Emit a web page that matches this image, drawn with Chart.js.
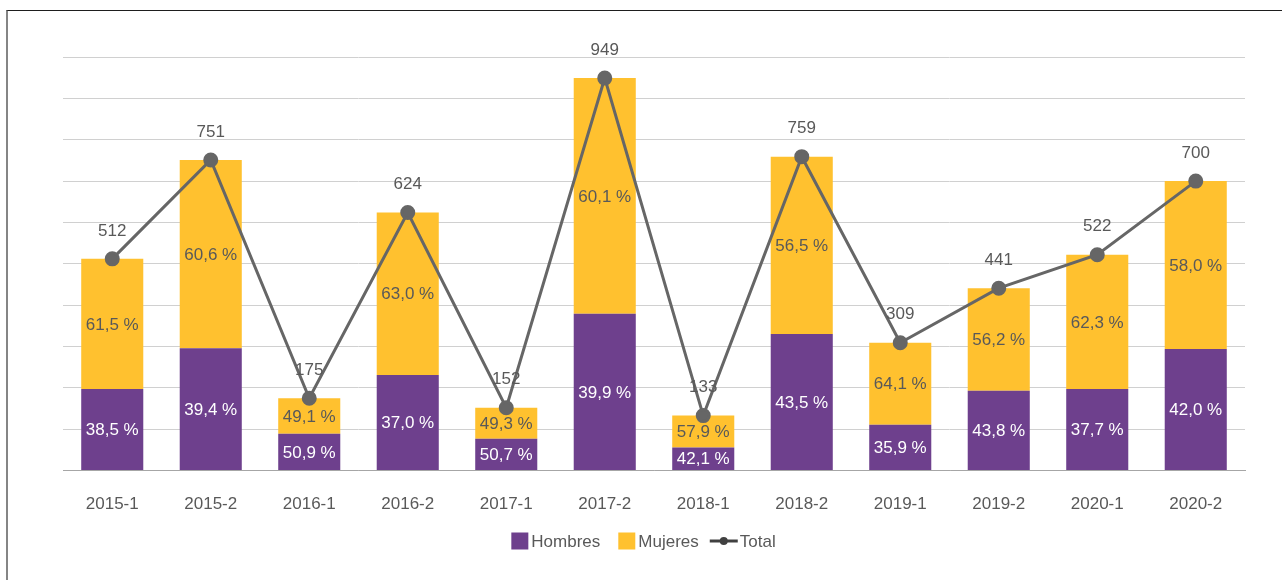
<!DOCTYPE html>
<html><head><meta charset="utf-8">
<script src="https://cdn.jsdelivr.net/npm/chart.js@4.4.0/dist/chart.umd.min.js"></script>
<style>
html,body{margin:0;padding:0;background:#fff;}
#wrap{position:absolute;left:0;top:0;width:1282px;height:580px;}
#frame{position:absolute;left:6px;top:10px;width:1276px;height:570px;border-top:1px solid #1e1e1e;border-left:2px solid #858585;box-sizing:border-box;pointer-events:none;}
</style></head><body>
<div id="wrap"><canvas id="c" width="1282" height="580"></canvas></div>
<div id="frame"></div>
<script>
const categories = ['2015-1','2015-2','2016-1','2016-2','2017-1','2017-2','2018-1','2018-2','2019-1','2019-2','2020-1','2020-2'];
const hombres = [197,296,89,231,77,379,56,330,111,193,197,294];
const mujeres = [315,455,86,393,75,570,77,429,198,248,325,406];
const totals  = [512,751,175,624,152,949,133,759,309,441,522,700];
const hombresPct = ['38,5 %','39,4 %','50,9 %','37,0 %','50,7 %','39,9 %','42,1 %','43,5 %','35,9 %','43,8 %','37,7 %','42,0 %'];
const mujeresPct = ['61,5 %','60,6 %','49,1 %','63,0 %','49,3 %','60,1 %','57,9 %','56,5 %','64,1 %','56,2 %','62,3 %','58,0 %'];
const seriesNames = ['Hombres','Mujeres','Total'];

const FONT = "'Liberation Sans Narrow','Arial Narrow','Liberation Sans',Arial,sans-serif";
const FS = 17;
const PURPLE = '#6E408D';
const YELLOW = '#FFC12F';
const LINEC = '#666666';
const TXT = '#595959';

const labelPlugin = {
  id: 'valueLabels',
  afterDatasetsDraw(chart) {
    const ctx = chart.ctx;
    ctx.save();
    ctx.font = FS + 'px ' + FONT;
    ctx.textAlign = 'center';
    ctx.textBaseline = 'middle';
    const mh = chart.getDatasetMeta(0), mm = chart.getDatasetMeta(1), mt = chart.getDatasetMeta(2);
    mh.data.forEach((b, i) => {
      ctx.fillStyle = '#ffffff';
      ctx.fillText(hombresPct[i], b.x, (b.y + b.base) / 2 + 1);
    });
    mm.data.forEach((b, i) => {
      ctx.fillStyle = TXT;
      ctx.fillText(mujeresPct[i], b.x, (b.y + b.base) / 2 + 1);
    });
    mt.data.forEach((p, i) => {
      ctx.fillStyle = TXT;
      ctx.fillText(String(totals[i]), p.x, p.y - 28);
    });
    ctx.restore();
  },
  afterDraw(chart) {
    const ctx = chart.ctx;
    ctx.save();
    ctx.font = FS + 'px ' + FONT;
    ctx.textBaseline = 'middle';
    ctx.textAlign = 'left';
    const cy = 541;
    const w0 = ctx.measureText(seriesNames[0]).width;
    const w1 = ctx.measureText(seriesNames[1]).width;
    const w2 = ctx.measureText(seriesNames[2]).width;
    const total = 17 + 3 + w0 + 18 + 17 + 3 + w1 + 11 + 28 + 2 + w2;
    let x = 643.5 - total / 2;
    ctx.fillStyle = PURPLE; ctx.fillRect(x, cy - 8.5, 17, 17);
    x += 20; ctx.fillStyle = TXT; ctx.fillText(seriesNames[0], x, cy + 1); x += w0 + 18;
    ctx.fillStyle = YELLOW; ctx.fillRect(x, cy - 8.5, 17, 17);
    x += 20; ctx.fillStyle = TXT; ctx.fillText(seriesNames[1], x, cy + 1); x += w1 + 11;
    ctx.strokeStyle = '#404040'; ctx.lineWidth = 3;
    ctx.beginPath(); ctx.moveTo(x, cy); ctx.lineTo(x + 28, cy); ctx.stroke();
    ctx.fillStyle = '#404040'; ctx.beginPath(); ctx.arc(x + 14, cy, 4, 0, Math.PI * 2); ctx.fill();
    x += 30; ctx.fillStyle = TXT; ctx.fillText(seriesNames[2], x, cy + 1);
    ctx.restore();
  }
};

new Chart(document.getElementById('c'), {
  data: {
    labels: categories,
    datasets: [
      { type: 'bar', label: seriesNames[0], data: hombres, backgroundColor: PURPLE, stack: 's', order: 2,
        categoryPercentage: 1, barPercentage: 0.63 },
      { type: 'bar', label: seriesNames[1], data: mujeres, backgroundColor: YELLOW, stack: 's', order: 2,
        categoryPercentage: 1, barPercentage: 0.63 },
      { type: 'line', label: seriesNames[2], data: totals, stack: 't', order: 0,
        borderColor: LINEC, backgroundColor: LINEC, borderWidth: 3, pointRadius: 6, pointHoverRadius: 6,
        pointBackgroundColor: LINEC, pointBorderColor: LINEC, tension: 0, clip: false }
    ]
  },
  options: {
    responsive: false,
    animation: false,
    devicePixelRatio: 1,
    layout: { padding: { left: 63, right: 37, top: 57, bottom: 41 } },
    plugins: { legend: { display: false }, tooltip: { enabled: false } },
    scales: {
      x: {
        stacked: true,
        grid: { display: false, drawTicks: false },
        border: { display: true, color: '#A6A6A6', width: 1 },
        ticks: { color: TXT, font: { family: FONT, size: FS }, padding: 24, maxRotation: 0 }
      },
      y: {
        stacked: true,
        min: 0, max: 1000,
        grid: { color: '#D0D0D0', lineWidth: 1, drawTicks: false },
        border: { display: false },
        ticks: { display: false, stepSize: 100 }
      }
    }
  },
  plugins: [labelPlugin]
});
</script>
</body></html>
